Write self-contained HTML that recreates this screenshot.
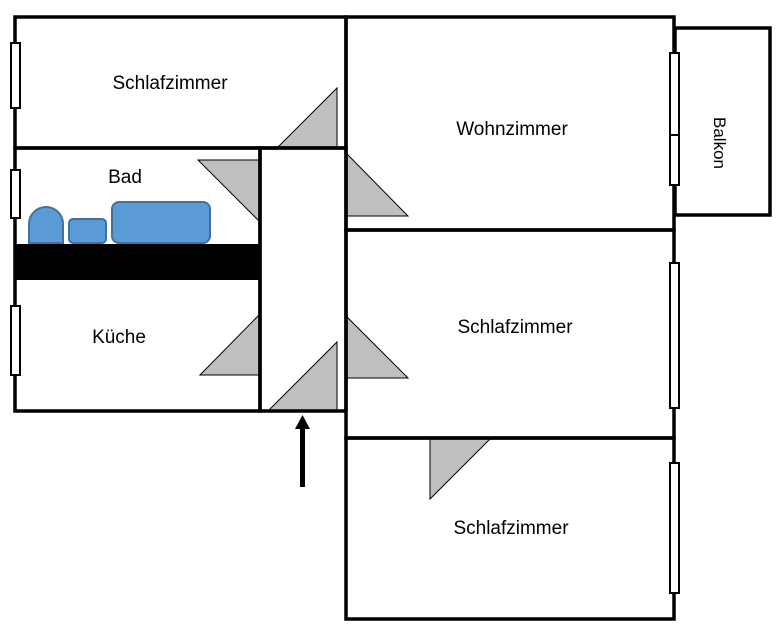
<!DOCTYPE html>
<html><head><meta charset="utf-8"><style>
html,body{margin:0;padding:0;background:#fff;}
svg{display:block;}
text{font-family:"Liberation Sans",sans-serif;font-size:19px;fill:#000;}
</style></head><body>
<svg width="783" height="634" viewBox="0 0 783 634" xmlns="http://www.w3.org/2000/svg">
<rect width="783" height="634" fill="#fff"/>
<g fill="#bfbfbf" stroke="#000" stroke-width="1">
<polygon points="277,148 337,88 337,148"/>
<polygon points="198,160 260,160 260,222"/>
<polygon points="347,154 347,216 408,216"/>
<polygon points="200,375 260,375 260,314"/>
<polygon points="347,317 347,378 408,378"/>
<polygon points="268,411 337,411 337,342"/>
<polygon points="430,439 490,439 430,499"/>
</g>
<g fill="none" stroke="#000" stroke-width="3.5">
<rect x="15" y="17" width="331" height="131"/>
<rect x="15" y="148" width="245" height="263"/>
<rect x="260" y="148" width="86" height="263"/>
<rect x="346" y="17" width="328" height="213"/>
<rect x="346" y="230" width="328" height="208"/>
<rect x="346" y="438" width="328" height="181"/>
<rect x="675" y="28" width="95" height="187"/>
</g>
<line x1="337" y1="88" x2="337" y2="148" stroke="#000" stroke-width="1"/>
<rect x="15" y="244" width="246" height="36" fill="#000"/>
<g fill="#5b9bd5" stroke="#41719c" stroke-width="2">
<path d="M29,243 L29,224 A17,17 0 0 1 63,224 L63,243 Z"/>
<rect x="69" y="219" width="37" height="24" rx="4"/>
<rect x="112" y="202" width="98" height="41" rx="7"/>
</g>
<g fill="#fff" stroke="#000" stroke-width="2">
<rect x="11" y="43" width="9" height="65"/>
<rect x="11" y="170" width="9" height="48"/>
<rect x="11" y="306" width="9" height="69"/>
<rect x="670" y="53" width="9" height="82"/>
<rect x="670" y="135" width="9" height="50"/>
<rect x="670" y="263" width="9" height="145"/>
<rect x="670" y="463" width="9" height="130"/>
</g>
<rect x="300" y="428" width="5" height="59" fill="#000"/>
<polygon points="295,429 302.5,415 310,429" fill="#000"/>
<text x="170" y="89" text-anchor="middle">Schlafzimmer</text>
<text x="125" y="183" text-anchor="middle">Bad</text>
<text x="119" y="343" text-anchor="middle">Küche</text>
<text x="512" y="135" text-anchor="middle">Wohnzimmer</text>
<text x="515" y="333" text-anchor="middle">Schlafzimmer</text>
<text x="511" y="534" text-anchor="middle">Schlafzimmer</text>
<text transform="translate(714,143) rotate(90)" text-anchor="middle" style="font-size:17px">Balkon</text>
</svg>
</body></html>
